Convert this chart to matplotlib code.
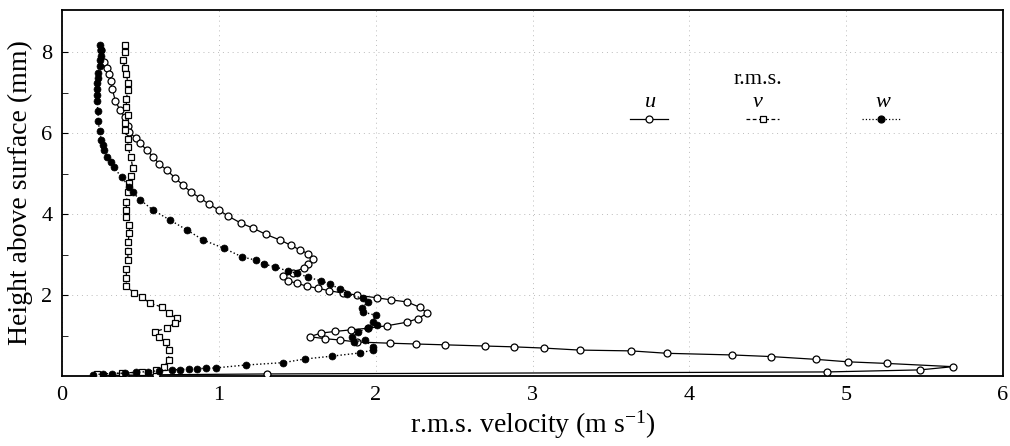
import matplotlib
matplotlib.use("Agg")
import matplotlib.pyplot as plt
from matplotlib.lines import Line2D

plt.rcParams['font.family'] = ['Liberation Serif', 'DejaVu Serif']
plt.rcParams['mathtext.fontset'] = 'custom'
plt.rcParams['mathtext.rm'] = 'Liberation Serif'
plt.rcParams['mathtext.it'] = 'Liberation Serif:italic'

# ---- data (r.m.s. velocity in m/s, height in mm), ordered along each profile ----
u_x = [0.25, 0.27, 0.29, 0.30, 0.31, 0.32, 0.34, 0.37, 0.40, 0.42, 0.43, 0.47, 0.50, 0.54,
       0.58, 0.62, 0.67, 0.72, 0.77, 0.82, 0.88, 0.94, 1.00, 1.06, 1.14, 1.22, 1.30, 1.39,
       1.46, 1.52, 1.57, 1.60, 1.57, 1.54, 1.47, 1.41, 1.44, 1.50, 1.56, 1.63, 1.70, 1.79,
       1.88, 2.01, 2.10, 2.20, 2.28, 2.33, 2.27, 2.20, 2.07, 1.95, 1.84, 1.74, 1.65, 1.58,
       1.68, 1.77, 1.88, 2.09, 2.26, 2.44, 2.70, 2.88, 3.07, 3.30, 3.63, 3.86, 4.27, 4.52,
       4.81, 5.01, 5.26, 5.68, 5.47, 4.88, 1.31, 0.60, 0.40, 0.22]
u_y = [8.05, 7.76, 7.60, 7.47, 7.28, 7.10, 6.80, 6.57, 6.40, 6.18, 6.02, 5.88, 5.75, 5.58,
       5.42, 5.24, 5.08, 4.90, 4.72, 4.55, 4.40, 4.24, 4.10, 3.95, 3.78, 3.65, 3.50, 3.36,
       3.23, 3.11, 3.02, 2.88, 2.76, 2.67, 2.55, 2.46, 2.35, 2.29, 2.22, 2.17, 2.11, 2.05,
       2.00, 1.93, 1.88, 1.83, 1.70, 1.55, 1.42, 1.33, 1.24, 1.18, 1.14, 1.10, 1.06, 0.97,
       0.92, 0.89, 0.84, 0.81, 0.79, 0.77, 0.74, 0.72, 0.69, 0.64, 0.62, 0.56, 0.52, 0.48,
       0.41, 0.35, 0.31, 0.23, 0.15, 0.10, 0.05, 0.03, 0.02, 0.00]

v_x = [0.40, 0.40, 0.39, 0.40, 0.41, 0.42, 0.42, 0.41, 0.41, 0.42, 0.40, 0.40, 0.42, 0.42,
       0.44, 0.45, 0.44, 0.43, 0.42, 0.41, 0.41, 0.41, 0.43, 0.43, 0.42, 0.42, 0.42, 0.41,
       0.41, 0.41, 0.46, 0.51, 0.56, 0.64, 0.68, 0.73, 0.72, 0.67, 0.59, 0.62, 0.66, 0.68,
       0.68, 0.65, 0.60, 0.51, 0.38, 0.22]
v_y = [8.17, 8.00, 7.80, 7.62, 7.47, 7.25, 7.06, 6.85, 6.65, 6.45, 6.25, 6.07, 5.85, 5.65,
       5.40, 5.15, 4.95, 4.77, 4.55, 4.30, 4.10, 3.93, 3.73, 3.53, 3.30, 3.08, 2.86, 2.65,
       2.42, 2.22, 2.05, 1.95, 1.80, 1.70, 1.55, 1.43, 1.31, 1.19, 1.09, 0.96, 0.84, 0.64,
       0.40, 0.22, 0.15, 0.10, 0.07, 0.05]

w_x = [0.24, 0.25, 0.25, 0.24, 0.24, 0.23, 0.23, 0.22, 0.22, 0.22, 0.22, 0.23, 0.23, 0.24,
       0.25, 0.26, 0.27, 0.29, 0.31, 0.33, 0.38, 0.43, 0.45, 0.50, 0.58, 0.69, 0.80, 0.90,
       1.03, 1.15, 1.24, 1.29, 1.36, 1.44, 1.50, 1.57, 1.65, 1.71, 1.77, 1.82, 1.92, 1.95,
       1.91, 1.92, 2.00, 1.98, 2.01, 1.95, 1.89, 1.85, 1.86, 1.93, 1.98, 1.98, 1.90, 1.72,
       1.55, 1.41, 1.17, 0.98, 0.92, 0.86, 0.81, 0.75, 0.70, 0.62, 0.55, 0.47, 0.40, 0.32,
       0.26, 0.20]
w_y = [8.17, 8.05, 7.92, 7.80, 7.65, 7.50, 7.37, 7.23, 7.10, 6.95, 6.80, 6.55, 6.30, 6.05,
       5.83, 5.70, 5.58, 5.40, 5.28, 5.16, 4.91, 4.67, 4.54, 4.35, 4.10, 3.85, 3.60, 3.36,
       3.16, 2.94, 2.86, 2.76, 2.70, 2.59, 2.54, 2.44, 2.35, 2.27, 2.15, 2.02, 1.92, 1.83,
       1.67, 1.58, 1.50, 1.33, 1.26, 1.18, 1.09, 0.96, 0.84, 0.89, 0.72, 0.64, 0.57, 0.49,
       0.42, 0.33, 0.27, 0.20, 0.19, 0.18, 0.17, 0.16, 0.15, 0.13, 0.11, 0.09, 0.07, 0.06,
       0.05, 0.03]

x_ticks = [0, 1, 2, 3, 4, 5, 6]
y_ticks = [2, 4, 6, 8]
y_minor = [1, 3, 5, 7]

# ---- figure ----
fig = plt.figure(figsize=(10.10, 4.46), dpi=100)
ax = fig.add_axes([0.0614, 0.157, 0.9317, 0.821])

ax.plot(u_x, u_y, '-', color='black', lw=0.9, marker='o', ms=5, mfc='white',
        mec='black', mew=0.9, zorder=3)
ax.plot(v_x, v_y, '--', color='black', lw=0.9, marker='s', ms=5, mfc='white',
        mec='black', mew=0.9, dashes=(3, 2), zorder=3)
ax.plot(w_x, w_y, ':', color='black', lw=1.0, marker='o', ms=5, mfc='black',
        mec='black', mew=0.5, zorder=3)

ax.set_xlim(0, 6)
ax.set_ylim(0, 9.05)
ax.set_xticks(x_ticks)
ax.set_yticks(y_ticks)
ax.set_yticks(y_minor, minor=True)
ax.tick_params(axis='both', which='both', direction='in', labelsize=16, pad=7)
ax.tick_params(axis='y', which='major', length=4)
ax.tick_params(axis='y', which='minor', length=4)
ax.tick_params(axis='x', which='major', length=0)
ax.grid(True, which='major', linestyle=(0, (1, 4)), color='#bbbbbb', lw=0.7)
for s in ax.spines.values():
    s.set_linewidth(1.3)

ax.set_xlabel(r'r.m.s. velocity (m s$^{-1}$)', fontsize=20, labelpad=3)
ax.set_ylabel('Height above surface (mm)', fontsize=20, labelpad=6)

# ---- legend (manual layout: title, labels above handles) ----
tr = ax.transAxes
ax.text(0.739, 0.809, 'r.m.s.', transform=tr, ha='center', va='center', fontsize=16)
labels = ['u', 'v', 'w']
lab_x = [0.625, 0.739, 0.872]
h_x0 = [0.604, 0.727, 0.850]
h_x1 = [0.644, 0.762, 0.890]
styles = [dict(ls='-', marker='o', mfc='white'),
          dict(ls='--', marker='s', mfc='white', dashes=(3, 2)),
          dict(ls=':', marker='o', mfc='black')]
for lab, lx, x0, x1, st in zip(labels, lab_x, h_x0, h_x1, styles):
    ax.text(lx, 0.746, lab, transform=tr, ha='center', va='center', fontsize=16,
            style='italic')
    ax.add_line(Line2D([x0, x1], [0.702, 0.702], transform=tr, color='black', lw=0.9,
                       ls=st['ls'], **({'dashes': st['dashes']} if 'dashes' in st else {})))
    ax.add_line(Line2D([(x0 + x1) / 2], [0.702], transform=tr, marker=st['marker'],
                       ms=5, mfc=st['mfc'], mec='black', mew=0.9, ls='none'))

fig.savefig('out.png', dpi=100)
